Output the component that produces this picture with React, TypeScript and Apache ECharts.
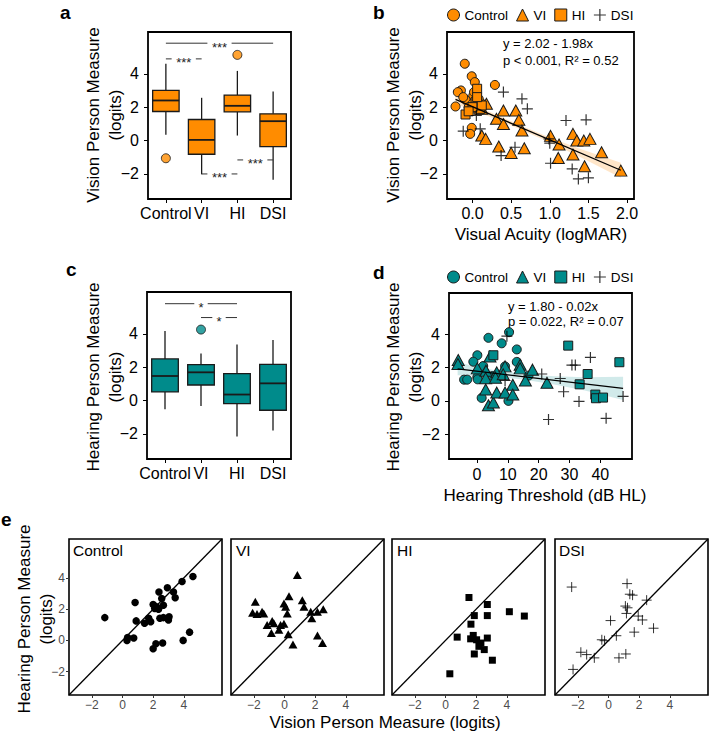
import React, { useEffect, useRef } from 'react';
import * as echarts from 'echarts';

const FONT = '"Liberation Sans", Arial, Helvetica, sans-serif';
const ORANGE = '#FF8C00';
const TEAL = '#008B8B';
const EDGE = '#1a1a1a';
const PLUS = 'path://M0,5L10,5M5,0L5,10';

const groups = ['Control', 'VI', 'HI', 'DSI'];
const personTicks = [-2, 0, 2, 4];
const acuityTicks = [0, 0.5, 1, 1.5, 2];
const thresholdTicks = [0, 10, 20, 30, 40];

// ---- panel a: vision person measure by group (min, Q1, median, Q3, max)
const visionBoxStats = [
  [0.34, 1.74, 2.4, 3.0, 4.6],
  [-2.02, -0.82, 0.04, 1.26, 2.56],
  [0.3, 1.72, 2.08, 2.72, 4.17],
  [-2.34, -0.36, 1.16, 1.6, 2.93],
];
const visionOutliers = [[0, -1.06], [2, 5.13]];
// [from group, y, to group]
const visionSigPairs = [[0, 5.83, 3], [0, 4.89, 1], [1, -2.0, 2], [2, -1.16, 3]];
const visionSigLabels = ['***', '***', '***', '***'];

// ---- panel c: hearing person measure by group
const hearingBoxStats = [
  [-0.52, 0.52, 1.47, 2.49, 4.16],
  [-0.32, 0.93, 1.69, 2.15, 2.82],
  [-2.15, -0.18, 0.36, 1.61, 3.36],
  [-1.79, -0.58, 1.03, 2.17, 3.62],
];
const hearingOutliers = [[1, 4.25]];
const hearingSigPairs = [[0, 5.8, 2], [1, 4.97, 2]];
const hearingSigLabels = ['*', '*'];

// ---- panel b: visual acuity (logMAR) vs vision person measure
const acuityControl = [
  [-0.1, 4.6], [-0.01, 3.85], [0.03, 3.5], [0.29, 3.33], [-0.15, 3.0], [-0.19, 2.9],
  [0.01, 2.69], [-0.09, 2.44], [-0.22, 2.04], [-0.01, 0.76], [-0.03, 0.4], [0.05, 2.4],
  [0.07, 2.1], [0.0, 2.2], [-0.05, 2.0], [0.1, 2.3], [0.04, 1.95], [-0.12, 2.6], [0.02, 2.9], [0.08, 2.5],
];
const acuityVI = [
  [0.18, 2.2], [0.4, 1.8], [0.56, 1.8], [0.6, 1.24], [0.31, 1.3], [0.4, 0.99], [0.64, 0.6],
  [0.12, 0.3], [0.17, 0.1], [0.34, -0.36], [0.5, -0.74], [0.67, -0.46], [1.01, 0.28],
  [1.12, -0.24], [1.11, -1.04], [1.3, 0.4], [1.35, 0.0], [1.44, 0.0], [1.52, 0.1],
  [1.3, -0.84], [1.45, -1.54], [1.67, -0.7], [1.92, -1.8], [0.08, 2.4], [0.12, 1.9],
];
const acuityHI = [
  [0.06, 3.1], [-0.09, 1.56], [0.08, 1.84], [0.04, 2.3], [0.1, 1.9], [0.0, 2.0],
  [0.12, 2.1], [-0.05, 1.75], [0.06, 2.6],
];
const acuityDSI = [
  [0.4, 2.9], [0.64, 2.5], [0.71, 1.9], [1.21, 1.2], [1.47, 1.24], [-0.12, 0.56], [0.1, 0.7],
  [0.05, 1.5], [0.55, -0.4], [0.37, -0.9], [1.0, -0.16], [1.01, -1.36], [1.29, -1.7],
  [1.5, -2.23], [1.37, -2.3], [0.99, 0.1],
];
const acuityFit = [[-0.22, 2.46], [1.92, -1.78]];
const acuityBandX = [-0.22, 0.2, 0.6, 1.0, 1.4, 1.92];
const acuityBandHi = [2.71, 1.77, 0.95, 0.19, -0.5, -1.33];
const acuityBandLo = [2.21, 1.47, 0.71, -0.11, -1.0, -2.23];

// ---- panel d: hearing threshold (dB HL) vs hearing person measure
const thresholdControl = [
  [3.7, 3.8], [8.0, 3.47], [10.4, 4.14], [12.9, 3.1], [0.1, 2.75], [-1.2, 2.36], [0.1, 1.43],
  [0.2, 1.3], [-4.2, 1.28], [-3.2, 1.28], [1.5, 0.18], [10.2, 0.0], [9.1, 2.08], [12.9, 2.35],
  [16.7, 1.52], [5.0, 1.5], [2.0, 2.1],
];
const thresholdVI = [
  [-6.1, 2.46], [-6.2, 2.22], [0.1, 1.96], [2.9, 1.82], [4.2, 2.67], [2.8, 1.37], [6.4, 1.72],
  [9.1, 2.08], [14.0, 2.18], [14.0, 1.96], [11.6, 0.97], [15.7, 1.23], [18.0, 1.88],
  [22.7, 1.09], [2.8, 0.69], [3.7, -0.26], [5.3, -0.1], [6.4, 0.5], [9.1, 0.5], [11.6, 0.38],
  [6.0, 1.4], [8.5, 1.6],
];
const thresholdHI = [
  [5.3, 2.75], [29.6, 3.33], [35.9, 1.62], [33.3, 1.0], [38.4, 0.38], [38.6, 0.16], [40.9, 0.2], [46.2, 2.33],
];
const thresholdDSI = [
  [9.7, 3.9], [9.1, 1.23], [21.0, 1.62], [27.0, 1.35], [28.1, 0.55], [30.8, 2.16], [31.9, 2.16],
  [36.8, 2.62], [33.1, -0.03], [23.2, -1.12], [41.9, -1.05], [47.4, 0.27],
];
const thresholdFit = [[-6.3, 1.93], [47.4, 0.75]];
const thresholdBandX = [-6.3, 5, 15, 25, 35, 47.4];
const thresholdBandHi = [2.31, 1.88, 1.63, 1.49, 1.42, 1.45];
const thresholdBandLo = [1.55, 1.48, 1.29, 0.99, 0.62, 0.05];

// ---- panel e: vision (x) vs hearing (y) person measure per group
const eControl = [
  [-1.16, 1.46], [0.82, 2.43], [0.89, 1.25], [0.29, 0.0], [0.33, 0.19], [0.73, 0.15], [1.44, 1.1],
  [1.71, 1.42], [1.84, 1.2], [2.0, 2.3], [2.1, 2.05], [2.38, 3.1], [2.56, 2.68], [2.67, 2.26],
  [2.44, 1.42], [2.67, 1.46], [2.93, 3.38], [3.04, 1.52], [3.0, 1.31], [3.33, 3.1], [3.44, 2.73],
  [3.89, 3.78], [4.6, 4.1], [4.38, 0.53], [3.96, 0.0], [2.0, -0.53], [2.18, -0.21], [2.62, -0.17],
  [2.22, 2.16], [2.35, 2.0],
];
const eVI = [
  [-1.91, 2.47], [-2.09, 1.78], [-1.8, 1.69], [-1.47, 1.84], [-1.36, 1.73], [-1.14, 0.99],
  [-0.81, 1.25], [-0.7, 1.1], [-0.86, 0.47], [-0.37, 0.68], [-0.04, 1.06], [-0.26, 0.99],
  [-0.04, 2.37], [0.07, 2.16], [0.29, 2.83], [0.18, 1.73], [0.24, 0.4], [0.55, -0.27],
  [0.84, 4.2], [1.16, 2.58], [1.27, 2.16], [1.71, 1.84], [1.78, 1.42], [2.15, 1.84],
  [2.53, 1.99], [2.15, 0.32], [2.48, -0.17],
];
const eHI = [
  [1.53, 2.75], [2.73, 2.3], [1.88, 1.59], [2.73, 1.59], [4.17, 1.84], [5.15, 1.56], [1.66, 1.04],
  [0.76, 0.21], [1.81, 0.32], [1.64, 0.1], [2.03, 0.04], [2.73, 0.15], [2.31, -0.17],
  [2.18, -0.38], [2.53, -0.59], [1.88, -0.87], [3.06, -1.27], [0.28, -2.14],
];
const eDSI = [
  [-2.41, 3.42], [1.21, 3.64], [1.39, 2.96], [1.57, 2.9], [2.49, 2.58], [1.1, 2.2], [1.24, 2.09],
  [1.17, 1.73], [1.94, 1.56], [2.21, 1.31], [0.13, 1.27], [1.68, 0.53], [2.94, 0.78], [0.51, 0.3],
  [-0.44, 0.04], [-0.26, -0.02], [-1.81, -0.76], [-1.43, -0.91], [-0.93, -1.12], [0.68, -1.12],
  [1.13, -0.87], [-2.32, -1.86],
];
const ePanelData = [eControl, eVI, eHI, eDSI];
const identityLine = [[-3.5, -3.5], [6.5, 6.5]];

const symbols = ['circle', 'triangle', 'rect', PLUS];
const minus = (v: number) => (v < 0 ? '\u2212' + Math.abs(v) : String(v));

function boxRender(color: string) {
  return (params: any, api: any) => {
    const i = api.value(0);
    const lo = api.coord([i, api.value(1)]);
    const q1 = api.coord([i, api.value(2)]);
    const md = api.coord([i, api.value(3)]);
    const q3 = api.coord([i, api.value(4)]);
    const hi = api.coord([i, api.value(5)]);
    const half = api.size([1, 0])[0] * 0.37;
    const cx = md[0];
    const st = { stroke: EDGE, lineWidth: 1.3 };
    return {
      type: 'group',
      children: [
        { type: 'line', shape: { x1: cx, y1: hi[1], x2: cx, y2: q3[1] }, style: st },
        { type: 'line', shape: { x1: cx, y1: q1[1], x2: cx, y2: lo[1] }, style: st },
        { type: 'rect', shape: { x: cx - half, y: q3[1], width: half * 2, height: q1[1] - q3[1] }, style: { fill: color, stroke: EDGE, lineWidth: 1.3 } },
        { type: 'line', shape: { x1: cx - half, y1: md[1], x2: cx + half, y2: md[1] }, style: { stroke: EDGE, lineWidth: 1.8 } },
      ],
    };
  };
}

function sigRender(labels: string[]) {
  return (params: any, api: any) => {
    const p1 = api.coord([api.value(0), api.value(1)]);
    const p2 = api.coord([api.value(2), api.value(1)]);
    const label = labels[params.dataIndex];
    const mid = (p1[0] + p2[0]) / 2;
    const gap = label.length * 2.7 + 4;
    const st = { stroke: '#333', lineWidth: 1 };
    return {
      type: 'group',
      children: [
        { type: 'line', shape: { x1: p1[0], y1: p1[1], x2: mid - gap, y2: p1[1] }, style: st },
        { type: 'line', shape: { x1: mid + gap, y1: p1[1], x2: p2[0], y2: p1[1] }, style: st },
        { type: 'text', x: mid, y: p1[1] + 4, style: { text: label, align: 'center', verticalAlign: 'middle', fontSize: 13, fontFamily: FONT, fill: '#222' } },
      ],
    };
  };
}

function bandRender(xs: number[], hi: number[], lo: number[], fill: string) {
  return (params: any, api: any) => {
    const top = xs.map((x, i) => api.coord([x, hi[i]]));
    const bot = xs.map((x, i) => api.coord([x, lo[i]])).reverse();
    return { type: 'polygon', shape: { points: top.concat(bot) }, style: { fill } };
  };
}

function valueAxis(gridIndex: number, min: number, max: number, ticks: number[], fmt: any, o: any = {}) {
  return {
    type: 'value',
    gridIndex,
    min,
    max,
    axisLine: { show: false, onZero: false },
    splitLine: { show: false },
    axisTick: { show: o.ticks !== false, length: o.tickLen ?? 4, customValues: ticks, lineStyle: { color: o.tickColor ?? '#000', width: 1 } },
    axisLabel: {
      show: o.labels !== false,
      customValues: ticks,
      formatter: fmt,
      fontSize: o.fontSize ?? 16,
      color: o.color ?? '#000',
      fontFamily: FONT,
      margin: o.margin ?? 8,
    },
  };
}

function categoryAxis(gridIndex: number) {
  return {
    type: 'category',
    gridIndex,
    data: groups,
    axisLine: { show: false, onZero: false },
    splitLine: { show: false },
    axisTick: { show: true, alignWithLabel: true, length: 4, lineStyle: { color: '#000', width: 1 } },
    axisLabel: { interval: 0, fontSize: 16, color: '#000', fontFamily: FONT, margin: 6 },
  };
}

function frame(left: number, top: number, width: number, height: number, bw = 1.8) {
  return { left, top, width, height, show: true, borderColor: '#000', borderWidth: bw, backgroundColor: 'transparent' };
}

function groupScatter(idx: number, data: number[][], color: string, g: number, big = true) {
  const isPlus = idx === 3;
  const sizes = big ? [9, [12, 11], 9, 11] : [7.5, [9, 8], 7, 10];
  return {
    type: 'scatter',
    name: big ? groups[idx] : undefined,
    xAxisIndex: g,
    yAxisIndex: g,
    data,
    symbol: symbols[idx],
    symbolSize: sizes[idx],
    itemStyle: isPlus
      ? { color: 'rgba(0,0,0,0)', borderColor: '#000', borderWidth: big ? 1.2 : 1 }
      : big
      ? { color, borderColor: EDGE, borderWidth: 1, opacity: 1 }
      : { color: '#000', borderWidth: 0, opacity: 1 },
    emphasis: { disabled: true },
    z: 3,
  };
}

function legendFor(top: number, color: string) {
  return {
    left: 447,
    top,
    orient: 'horizontal',
    padding: 0,
    itemGap: 8,
    itemWidth: 12,
    itemHeight: 12,
    selectedMode: false,
    textStyle: { fontSize: 13.5, fontFamily: FONT, color: '#000' },
    data: groups.map((g, i) => ({
      name: g,
      icon: symbols[i],
      itemStyle: i === 3 ? { color: 'rgba(0,0,0,0)', borderColor: '#000', borderWidth: 1.2 } : { color, borderColor: EDGE, borderWidth: 1 },
    })),
  };
}

function text(x: number, y: number, s: string, size: number, extra: any = {}, rotation = 0) {
  return {
    type: 'text',
    x,
    y,
    rotation,
    style: { text: s, fontSize: size, fontFamily: FONT, fill: '#000', align: 'left', verticalAlign: 'middle', ...extra },
  };
}

function buildOption() {
  const eLefts = [69, 231, 392, 555];
  const grid: any[] = [
    frame(148, 32, 143, 167),
    frame(447, 32, 187, 167),
    frame(147, 292, 144, 167),
    frame(449, 293, 183, 166),
    ...eLefts.map((l) => frame(l, 539, 153, 156, 1.6)),
  ];

  const xAxis: any[] = [
    categoryAxis(0),
    valueAxis(1, -0.33, 2.09, acuityTicks, (v: number) => v.toFixed(1), { margin: 6 }),
    categoryAxis(2),
    valueAxis(3, -9.1, 50.3, thresholdTicks, (v: number) => String(v), { margin: 7 }),
    ...eLefts.map((_, k) => valueAxis(4 + k, -3.5, 6.5, personTicks, minus, { fontSize: 12, color: '#4d4d4d', margin: 4, tickLen: 3, tickColor: '#333' })),
  ];
  const yAxis: any[] = [
    valueAxis(0, -3.5, 6.5, personTicks, minus, { margin: 9 }),
    valueAxis(1, -3.5, 6.5, personTicks, minus, { margin: 9 }),
    valueAxis(2, -3.5, 6.5, personTicks, minus, { margin: 9 }),
    valueAxis(3, -3.5, 6.5, personTicks, minus, { margin: 9 }),
    ...eLefts.map((_, k) =>
      valueAxis(4 + k, -3.5, 6.5, personTicks, minus, {
        fontSize: 12, color: '#4d4d4d', margin: 4, tickLen: 3, tickColor: '#333',
        labels: k === 0, ticks: k === 0,
      })
    ),
  ];

  const series: any[] = [];
  // panel a
  series.push({ type: 'custom', xAxisIndex: 0, yAxisIndex: 0, data: visionBoxStats.map((b, i) => [i, ...b]), encode: { x: 0, y: [1, 2, 3, 4, 5] }, renderItem: boxRender(ORANGE) });
  series.push({ type: 'scatter', xAxisIndex: 0, yAxisIndex: 0, data: visionOutliers, symbol: 'circle', symbolSize: 9, itemStyle: { color: ORANGE, borderColor: EDGE, borderWidth: 1 } });
  series.push({ type: 'custom', xAxisIndex: 0, yAxisIndex: 0, data: visionSigPairs, encode: { x: 0, y: 1 }, renderItem: sigRender(visionSigLabels) });
  // panel c
  series.push({ type: 'custom', xAxisIndex: 2, yAxisIndex: 2, data: hearingBoxStats.map((b, i) => [i, ...b]), encode: { x: 0, y: [1, 2, 3, 4, 5] }, renderItem: boxRender(TEAL) });
  series.push({ type: 'scatter', xAxisIndex: 2, yAxisIndex: 2, data: hearingOutliers, symbol: 'circle', symbolSize: 9, itemStyle: { color: TEAL, borderColor: EDGE, borderWidth: 1 } });
  series.push({ type: 'custom', xAxisIndex: 2, yAxisIndex: 2, data: hearingSigPairs, encode: { x: 0, y: 1 }, renderItem: sigRender(hearingSigLabels) });
  // panel b
  series.push({ type: 'custom', xAxisIndex: 1, yAxisIndex: 1, data: [[0, 0]], renderItem: bandRender(acuityBandX, acuityBandHi, acuityBandLo, 'rgba(255,165,60,0.28)'), z: 1 });
  [acuityControl, acuityVI, acuityHI, acuityDSI].forEach((d, i) => series.push(groupScatter(i, d, ORANGE, 1)));
  series.push({ type: 'line', xAxisIndex: 1, yAxisIndex: 1, data: acuityFit, showSymbol: false, lineStyle: { color: '#000', width: 1.3 }, z: 4 });
  // panel d
  series.push({ type: 'custom', xAxisIndex: 3, yAxisIndex: 3, data: [[0, 0]], renderItem: bandRender(thresholdBandX, thresholdBandHi, thresholdBandLo, 'rgba(0,139,139,0.18)'), z: 1 });
  [thresholdControl, thresholdVI, thresholdHI, thresholdDSI].forEach((d, i) => series.push(groupScatter(i, d, TEAL, 3)));
  series.push({ type: 'line', xAxisIndex: 3, yAxisIndex: 3, data: thresholdFit, showSymbol: false, lineStyle: { color: '#000', width: 1.3 }, z: 4 });
  // panel e
  ePanelData.forEach((d, k) => {
    series.push({ type: 'line', xAxisIndex: 4 + k, yAxisIndex: 4 + k, data: identityLine, showSymbol: false, lineStyle: { color: '#000', width: 1.3 } });
    series.push(groupScatter(k, d, '#000', 4 + k, false));
  });

  const graphic: any[] = [
    text(60, 12, 'a', 19, { fontWeight: 'bold' }),
    text(373, 12, 'b', 19, { fontWeight: 'bold' }),
    text(66, 269, 'c', 19, { fontWeight: 'bold' }),
    text(373, 272, 'd', 19, { fontWeight: 'bold' }),
    text(1, 519, 'e', 19, { fontWeight: 'bold' }),
    text(104, 115, 'Vision Person Measure\n(logits)', 17, { align: 'center', lineHeight: 22 }, Math.PI / 2),
    text(404, 115, 'Vision Person Measure\n(logits)', 17, { align: 'center', lineHeight: 22 }, Math.PI / 2),
    text(104, 377, 'Hearing Person Measure\n(logits)', 17, { align: 'center', lineHeight: 22 }, Math.PI / 2),
    text(404, 377, 'Hearing Person Measure\n(logits)', 17, { align: 'center', lineHeight: 22 }, Math.PI / 2),
    text(35, 619, 'Hearing Person Measure\n(logits)', 17, { align: 'center', lineHeight: 22 }, Math.PI / 2),
    text(541, 234, 'Visual Acuity (logMAR)', 17, { align: 'center' }),
    text(545, 495, 'Hearing Threshold (dB HL)', 17, { align: 'center' }),
    text(385, 722, 'Vision Person Measure (logits)', 17, { align: 'center' }),
    text(503, 43, 'y = 2.02 - 1.98x', 13),
    text(503, 60, 'p < 0.001, R\u00B2 = 0.52', 13),
    text(508, 306, 'y = 1.80 - 0.02x', 13),
    text(508, 321, 'p = 0.022, R\u00B2 = 0.07', 13),
    ...groups.map((g, k) => text([73, 236, 397, 559][k], 550, g, 15.5)),
  ];

  return {
    animation: false,
    backgroundColor: '#fff',
    textStyle: { fontFamily: FONT },
    grid,
    xAxis,
    yAxis,
    legend: [legendFor(8, ORANGE), legendFor(270, TEAL)],
    series,
    graphic,
  };
}

export default function App() {
  const ref = useRef<HTMLDivElement>(null);
  useEffect(() => {
    if (!ref.current) return;
    const chart = echarts.init(ref.current, undefined, { renderer: 'svg' });
    chart.setOption(buildOption() as any);
    return () => chart.dispose();
  }, []);
  return (
    <div
      ref={ref}
      style={{ position: 'absolute', left: 0, top: 0, width: 709, height: 733, background: '#fff' }}
    />
  );
}
